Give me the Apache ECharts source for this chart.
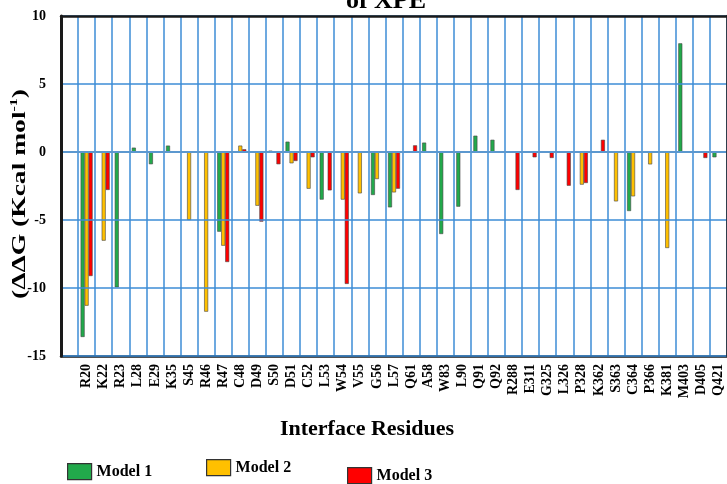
<!DOCTYPE html>
<html>
<head>
<meta charset="utf-8">
<script src="https://cdn.jsdelivr.net/npm/echarts@6/dist/echarts.min.js"></script>
<style>html,body{margin:0;padding:0;background:#fff}#c{width:727px;height:484px}</style>
</head>
<body>
<div id="c"></div>
<script>
var categories = ['R20','K22','R23','L28','E29','K35','S45','R46','R47','C48','D49','S50','D51','C52','L53','W54','V55','G56','L57','Q61','A58','W83','L90','Q91','Q92','R288','E311','G325','L326','P328','K362','S363','C364','P366','K381','M403','D405','Q421'];
var model1 = [-13.6,null,-9.95,0.32,-0.9,0.47,null,null,-5.86,null,null,0.1,0.76,null,-3.5,null,null,-3.16,-4.07,null,0.69,-6.03,-4.02,1.2,0.9,null,null,null,null,null,null,null,-4.34,null,null,7.99,null,-0.39];
var model2 = [-11.3,-6.52,null,null,null,null,-5.0,-11.74,-6.89,0.47,-3.95,null,-0.83,-2.7,null,-3.5,-3.04,-1.99,-2.97,null,null,null,null,null,null,null,null,null,null,-2.4,null,-3.63,-3.26,-0.91,-7.06,null,null,null];
var model3 = [-9.12,-2.79,null,null,null,null,null,null,-8.09,0.2,-5.12,-0.9,-0.66,-0.39,-2.82,-9.7,null,null,-2.7,0.49,null,null,null,null,null,-2.79,-0.39,-0.44,-2.48,-2.28,0.9,null,null,null,null,null,-0.44,null];
var yTicks = {min:-15, max:10, interval:5};
var seriesNames = ['Model 1','Model 2','Model 3'];
var colors = ['#22a94b','#ffc000','#ff0000'];
var titleText = 'of XPE';
var yTitle = '(\u0394\u0394G (Kcal mol';
var xTitle = 'Interface Residues';

var F = 'Liberation Serif, Times New Roman, serif';
var axisCats = [''].concat(categories);
function pad(a){ return [null].concat(a); }
var blue = '#3c8dd6';
var dark = '#1a1a1a';

var chart = echarts.init(document.getElementById('c'), null, {renderer:'canvas'});
function mkSeries(i, data){
  var s = {
    name: seriesNames[i], type:'bar', data: pad(data), barWidth:4, barGap:'0%',
    itemStyle:{color:colors[i], borderColor:'#444', borderWidth:0.6},
    animation:false, z:3
  };
  if(i===0){
    s.markLine = {silent:true, symbol:'none', label:{show:false},
      lineStyle:{color:'#bdbdbd', width:2, type:'solid'}, data:[{yAxis:0}], animation:false};
  }
  return s;
}
function mkLegend(i, left, top){
  return {data:[seriesNames[i]], left:left, top:top, padding:0, itemWidth:24, itemHeight:16, itemGap:6,
    selectedMode:false, icon:'rect',
    itemStyle:{borderColor:'#333', borderWidth:1.2},
    textStyle:{fontFamily:F, fontWeight:'bold', fontSize:16, color:'#000'}};
}
chart.setOption({
  backgroundColor:'#fff',
  animation:false,
  grid:{left:61, top:16, right:0, height:340, containLabel:false, outerBoundsMode:'none'},
  graphic:[
    {type:'text', x:386, y:14, style:{text:titleText, align:'center', verticalAlign:'bottom', fontFamily:F, fontWeight:'bold', fontSize:26, fill:'#000'}},
    {type:'group', x:20, y:194, rotation:Math.PI/2, children:[
      {type:'text', scaleX:1.45, style:{
        text:'{a|' + yTitle + '}{s|-1}{a|)}', align:'center', verticalAlign:'middle',
        rich:{
          a:{fontFamily:F, fontWeight:'bold', fontSize:19, fill:'#000'},
          s:{fontFamily:F, fontWeight:'bold', fontSize:11, fill:'#000', padding:[0,0,11,0]}
        }}}
    ]}
  ],
  legend:[mkLegend(0,67,463), mkLegend(1,206,459), mkLegend(2,347,467)],
  xAxis:[{type:'category', data:axisCats, boundaryGap:true, position:'bottom',
    name:xTitle, nameLocation:'middle', nameGap:62,
    nameTextStyle:{fontFamily:F, fontWeight:'bold', fontSize:22, color:'#000', padding:[0,54,0,0]},
    axisLine:{show:true, onZero:false, lineStyle:{color:dark, width:2.5}}, axisTick:{show:false},
    axisLabel:{interval:0, rotate:90, margin:8, fontFamily:F, fontWeight:'bold', fontSize:14, color:'#000'},
    splitLine:{show:true, interval:0, lineStyle:{color:blue, width:1.5}}, z:5
  },{type:'category', data:axisCats, boundaryGap:true, position:'top',
    axisLine:{show:true, onZero:false, lineStyle:{color:dark, width:2.5}}, axisTick:{show:false},
    axisLabel:{show:false}, splitLine:{show:false}, z:6
  }],
  yAxis:[{type:'value', min:yTicks.min, max:yTicks.max, interval:yTicks.interval, position:'left',
    axisLine:{show:true, onZero:false, lineStyle:{color:dark, width:3}}, axisTick:{show:false},
    axisLabel:{margin:15, fontFamily:F, fontWeight:'bold', fontSize:14, color:'#000'},
    splitLine:{show:true, lineStyle:{color:blue, width:1.5}}, z:6
  },{type:'value', min:yTicks.min, max:yTicks.max, interval:yTicks.interval, position:'right',
    axisLine:{show:true, onZero:false, lineStyle:{color:dark, width:2.5}}, axisTick:{show:false},
    axisLabel:{show:false}, splitLine:{show:false}, z:6
  }],
  series:[mkSeries(0,model1), mkSeries(1,model2), mkSeries(2,model3)]
});
</script>
</body>
</html>
